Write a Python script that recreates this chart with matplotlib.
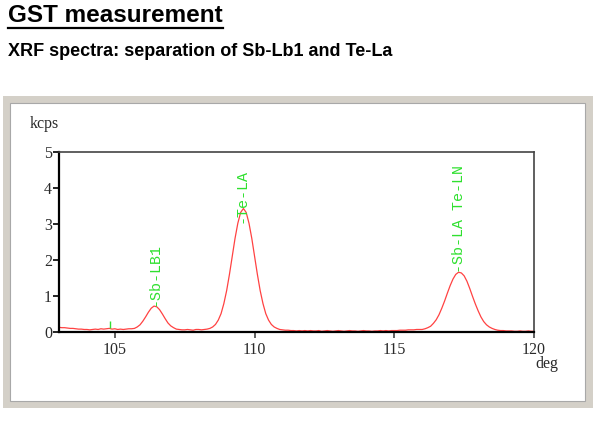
import matplotlib
matplotlib.use("Agg")
import matplotlib.pyplot as plt
from matplotlib.patches import Rectangle
from matplotlib.lines import Line2D
import numpy as np

# ---- data ----
angle_start = 103.0
angle_step = 0.1
intensity = [
    0.13, 0.12, 0.12, 0.11, 0.10, 0.10, 0.09, 0.08, 0.08, 0.07,   # 103.0-103.9
    0.07, 0.06, 0.07, 0.08, 0.07, 0.09, 0.08, 0.09, 0.10, 0.08,   # 104.0-104.9
    0.09, 0.07, 0.08, 0.07, 0.08, 0.09, 0.09, 0.10, 0.14, 0.20,   # 105.0-105.9
    0.30, 0.42, 0.55, 0.66, 0.72, 0.70, 0.62, 0.50, 0.37, 0.25,   # 106.0-106.9
    0.17, 0.12, 0.08, 0.07, 0.06, 0.06, 0.07, 0.06, 0.05, 0.07,   # 107.0-107.9
    0.07, 0.06, 0.07, 0.08, 0.10, 0.14, 0.21, 0.33, 0.51, 0.79,   # 108.0-108.9
    1.15, 1.60, 2.10, 2.60, 3.02, 3.32, 3.43, 3.32, 3.02, 2.60,   # 109.0-109.9
    2.10, 1.60, 1.15, 0.79, 0.51, 0.33, 0.21, 0.14, 0.10, 0.07,   # 110.0-110.9
    0.06, 0.05, 0.05, 0.04, 0.04, 0.03, 0.04, 0.03, 0.04, 0.03,   # 111.0-111.9
    0.04, 0.03, 0.03, 0.04, 0.02, 0.03, 0.04, 0.03, 0.02, 0.03,   # 112.0-112.9
    0.04, 0.03, 0.02, 0.03, 0.04, 0.03, 0.03, 0.02, 0.03, 0.04,   # 113.0-113.9
    0.03, 0.03, 0.02, 0.03, 0.03, 0.04, 0.03, 0.04, 0.03, 0.04,   # 114.0-114.9
    0.04, 0.04, 0.05, 0.05, 0.05, 0.06, 0.06, 0.06, 0.07, 0.07,   # 115.0-115.9
    0.07, 0.09, 0.12, 0.16, 0.24, 0.34, 0.48, 0.66, 0.86, 1.08,   # 116.0-116.9
    1.29, 1.47, 1.60, 1.66, 1.64, 1.56, 1.41, 1.21, 0.99, 0.78,   # 117.0-117.9
    0.59, 0.42, 0.29, 0.20, 0.14, 0.10, 0.07, 0.05, 0.04, 0.04,   # 118.0-118.9
    0.03, 0.03, 0.03, 0.02, 0.02, 0.03, 0.02, 0.02, 0.03, 0.02,   # 119.0-119.9
    0.02,                                                         # 120.0
]
angles = angle_start + angle_step * np.arange(len(intensity))

line_labels = ["-Sb-LB1", "-Te-LA", "-Sb-LA Te-LN"]
line_pos = [106.43, 109.52, 117.33]
line_base = [0.72, 3.02, 1.64]

marker_pos = [104.82]
marker_lo = [0.12]
marker_hi = [0.30]

xticks = [105, 110, 115, 120]
yticks = [0, 1, 2, 3, 4, 5]

W, H = 600, 422
fig = plt.figure(figsize=(W / 100, H / 100), dpi=100)
fig.patch.set_facecolor("white")

def fig_rect(x0, y0, x1, y1, **kw):
    r = Rectangle((x0 / W, 1 - y1 / H), (x1 - x0) / W, (y1 - y0) / H,
                  transform=fig.transFigure, **kw)
    fig.add_artist(r)
    return r

# window frame
fig_rect(3, 96, 593, 408, facecolor="#d4d0c8", edgecolor="none", zorder=-5)
fig_rect(10, 103, 585, 401, facecolor="white", edgecolor="#a8a8a8", linewidth=0.8, zorder=-4)

# titles
t = fig.text(8 / W, 1 - 15 / H, "GST measurement", fontsize=17.5, fontweight="bold",
             family="Liberation Sans", ha="left", va="center")
fig.text(8 / W, 1 - 52 / H, "XRF spectra: separation of Sb-Lb1 and Te-La", fontsize=13,
         fontweight="bold", family="Liberation Sans", ha="left", va="center")

ax = fig.add_axes([59 / W, 1 - 332 / H, (534 - 59) / W, (332 - 152) / H])
ax.plot(angles, intensity, color="#ff4242", linewidth=0.9)
for px, lo, hi in zip(marker_pos, marker_lo, marker_hi):
    ax.vlines(px, lo, hi, color="#33dd33", linewidth=1.0)
for txt, px, py in zip(line_labels, line_pos, line_base):
    ax.text(px, py, txt, rotation=90, ha="center", va="bottom", color="#2ee02e",
            family="Liberation Mono", fontsize=10.8)

ax.set_xlim(103, 120)
ax.set_ylim(0, 5)
ax.set_xticks(xticks)
ax.set_yticks(yticks)
ax.set_xticklabels([str(v) for v in xticks], family="Liberation Serif", fontsize=11.5, color="#2a2a2a")
ax.set_yticklabels([str(v) for v in yticks], family="Liberation Serif", fontsize=11.5, color="#2a2a2a")
ax.tick_params(axis="y", direction="out", length=4, width=1.2, pad=1, color="black")
ax.tick_params(axis="x", direction="out", length=4, width=1.2, pad=3, color="#444444")
for s in ("left", "bottom"):
    ax.spines[s].set_color("black")
    ax.spines[s].set_linewidth(1.6)
for s in ("top", "right"):
    ax.spines[s].set_color("#444444")
    ax.spines[s].set_linewidth(1.2)

fig.text(30 / W, 1 - 124 / H, "kcps", family="Liberation Serif", fontsize=11.5,
         color="#2a2a2a", ha="left", va="center")
fig.text(535 / W, 1 - 364 / H, "deg", family="Liberation Serif", fontsize=11.5,
         color="#2a2a2a", ha="left", va="center")

# underline for the main title
fig.canvas.draw()
bb = t.get_window_extent()
fig.add_artist(Line2D([bb.x0 / W, bb.x1 / W], [(bb.y0 - 1) / H, (bb.y0 - 1) / H],
                      transform=fig.transFigure, color="black", linewidth=1.6))

fig.savefig("out.png", dpi=100)
